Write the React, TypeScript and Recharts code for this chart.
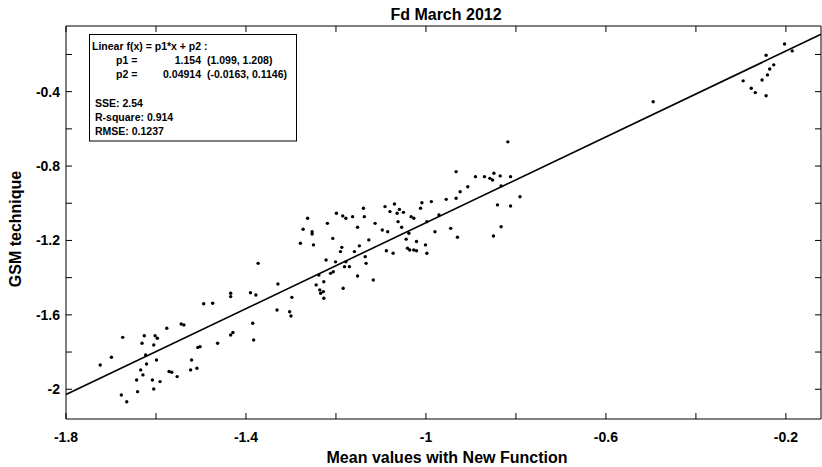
import React from 'react';
import { ScatterChart, Scatter, XAxis, YAxis, ReferenceLine } from 'recharts';

// Mean values with New Function (x) vs GSM technique (y)
const meanValues = [
  -1.724, -1.699, -1.674, -1.677, -1.665, -1.643, -1.641, -1.634, -1.631, -1.629,
  -1.626, -1.623, -1.621, -1.605, -1.602, -1.597, -1.608, -1.605, -1.599, -1.591,
  -1.576, -1.571, -1.565, -1.553, -1.544, -1.538, -1.521, -1.507, -1.502, -1.509,
  -1.523, -1.494, -1.474, -1.463, -1.434, -1.434, -1.434, -1.429, -1.390, -1.378,
  -1.385, -1.383, -1.373, -1.329, -1.331, -1.298, -1.303, -1.300,
  -1.279, -1.273, -1.263, -1.253, -1.253, -1.250, -1.244, -1.238, -1.236, -1.234,
  -1.228, -1.227, -1.227, -1.222, -1.219, -1.212, -1.206, -1.207, -1.201, -1.199,
  -1.190, -1.187, -1.185, -1.184, -1.181, -1.178, -1.178, -1.170, -1.163, -1.159,
  -1.152, -1.152, -1.148, -1.139, -1.137, -1.135, -1.133, -1.127, -1.117, -1.113,
  -1.097, -1.091, -1.088, -1.085, -1.080, -1.073, -1.070, -1.064, -1.062, -1.059,
  -1.054, -1.050, -1.044, -1.041, -1.038, -1.036, -1.033, -1.027, -1.027, -1.021,
  -1.021, -1.012, -1.009, -1.001, -0.998, -0.998, -0.988, -0.980, -0.971, -0.955,
  -0.945, -0.933, -0.933, -0.930, -0.924, -0.907, -0.890, -0.870, -0.858, -0.852,
  -0.849, -0.850, -0.841, -0.835, -0.833, -0.833, -0.818, -0.812, -0.812, -0.791,
  -0.495, -0.295, -0.277, -0.268, -0.253, -0.244, -0.244, -0.241, -0.236, -0.227,
  -0.203, -0.186,
];

const gsmValues = [
  -1.870, -1.828, -1.721, -2.031, -2.067, -1.950, -2.013, -1.896, -1.753, -1.923,
  -1.712, -1.816, -1.864, -1.762, -1.712, -1.726, -1.950, -1.999, -1.843, -1.959,
  -1.672, -1.905, -1.909, -1.932, -1.649, -1.654, -1.843, -1.775, -1.771, -1.887,
  -1.896, -1.540, -1.538, -1.753, -1.484, -1.502, -1.708, -1.695, -1.481, -1.493,
  -1.645, -1.735, -1.323, -1.434, -1.574, -1.506, -1.583, -1.606,
  -1.215, -1.140, -1.081, -1.153, -1.165, -1.224, -1.439, -1.386, -1.466, -1.484,
  -1.475, -1.422, -1.511, -1.305, -1.108, -1.377, -1.368, -1.189, -1.315, -1.054,
  -1.260, -1.237, -1.068, -1.457, -1.341, -1.315, -1.081, -1.341, -1.072, -1.260,
  -1.129, -1.391, -1.229, -1.027, -1.072, -1.287, -1.323, -1.197, -1.413, -1.108,
  -1.144, -1.018, -1.255, -1.153, -1.045, -1.269, -1.004, -1.054, -1.099, -1.033,
  -1.129, -1.049, -1.193, -1.242, -1.161, -1.251, -1.072, -1.081, -1.251, -1.206,
  -1.255, -1.027, -0.997, -1.224, -1.269, -1.099, -0.991, -1.153, -1.063, -0.979,
  -1.135, -0.830, -0.973, -1.183, -0.938, -0.911, -0.857, -0.857, -0.866, -0.875,
  -0.839, -1.176, -1.009, -0.853, -0.907, -1.126, -0.670, -1.015, -0.857, -0.965,
  -0.454, -0.342, -0.382, -0.405, -0.337, -0.422, -0.204, -0.310, -0.278, -0.256,
  -0.144, -0.181,
];

const points = meanValues.map((x, i) => ({ x, y: gsmValues[i] }));

const xTicks = [-1.8, -1.6, -1.4, -1.2, -1, -0.8, -0.6, -0.4, -0.2];
const xLabeled = [-1.8, -1.4, -1, -0.6, -0.2];
const yTicks = [-2, -1.8, -1.6, -1.4, -1.2, -1, -0.8, -0.6, -0.4, -0.2];
const yLabeled = [-2, -1.6, -1.2, -0.8, -0.4];

// fit: f(x) = p1*x + p2
const p1 = 1.154;
const p2 = 0.04914;

const xDomain: [number, number] = [-1.8, -0.122];
const yDomain: [number, number] = [-2.16, -0.047];

const font = '"Liberation Sans", Arial, sans-serif';
const tickStyle = { fontFamily: font, fontSize: 14, fontWeight: 700, fill: '#000' };

const labelOnly = (list: number[]) => (v: number) =>
  list.some((l) => Math.abs(l - v) < 1e-9) ? String(v) : '';
const blank = () => '';

const Dot = (props: any) => <circle cx={props.cx} cy={props.cy} r={1.7} fill="#000" />;

const App: React.FC = () => {
  const fitLine = [
    { x: xDomain[0], y: p1 * xDomain[0] + p2 },
    { x: xDomain[1], y: p1 * xDomain[1] + p2 },
  ];

  return (
    <div style={{ position: 'absolute', left: 0, top: 0, width: 822, height: 467, background: '#fff' }}>
      <ScatterChart width={822} height={467} margin={{ top: 25, right: 0, bottom: 0, left: 0 }}>
        <XAxis
          xAxisId="bottom"
          type="number"
          dataKey="x"
          domain={xDomain}
          allowDataOverflow
          ticks={xTicks}
          interval={0}
          tickFormatter={labelOnly(xLabeled)}
          height={48}
          tickSize={-6}
          tickMargin={19}
          stroke="#000"
          tick={tickStyle}
        />
        <XAxis
          xAxisId="top"
          orientation="top"
          type="number"
          dataKey="x"
          domain={xDomain}
          allowDataOverflow
          ticks={xTicks}
          interval={0}
          tickFormatter={blank}
          height={1}
          tickSize={-6}
          stroke="#000"
        />
        <YAxis
          yAxisId="left"
          type="number"
          dataKey="y"
          domain={yDomain}
          allowDataOverflow
          ticks={yTicks}
          interval={0}
          tickFormatter={labelOnly(yLabeled)}
          width={66}
          tickSize={-6}
          tickMargin={12}
          stroke="#000"
          tick={tickStyle}
        />
        <YAxis
          yAxisId="right"
          orientation="right"
          type="number"
          dataKey="y"
          domain={yDomain}
          allowDataOverflow
          ticks={yTicks}
          interval={0}
          tickFormatter={blank}
          width={1}
          tickSize={-6}
          stroke="#000"
        />
        <ReferenceLine
          xAxisId="bottom"
          yAxisId="left"
          segment={fitLine}
          stroke="#000"
          strokeWidth={1.6}
        />
        <Scatter
          xAxisId="bottom"
          yAxisId="left"
          data={points}
          shape={Dot}
          isAnimationActive={false}
        />
      </ScatterChart>

      <svg
        width={822}
        height={467}
        style={{ position: 'absolute', left: 0, top: 0, pointerEvents: 'none' }}
        fontFamily={font}
        fontWeight={700}
      >
        <text x={446} y={20} fontSize={16} textAnchor="middle" fill="#000">Fd March 2012</text>
        <text x={447} y={463} fontSize={16} textAnchor="middle" fill="#000">Mean values with New Function</text>
        <text x={21} y={229} fontSize={16} textAnchor="middle" fill="#000" transform="rotate(-90, 21, 229)">
          GSM technique
        </text>

        <rect x={89.5} y={34.5} width={207} height={106.5} fill="#fff" stroke="#000" strokeWidth={1} />
        <g fontSize={10.5} fill="#000">
          <text x={92} y={50}>Linear f(x) = p1*x + p2 :</text>
          <text x={116} y={64}>p1 =</text>
          <text x={201} y={64} textAnchor="end">1.154</text>
          <text x={207} y={64}>(1.099, 1.208)</text>
          <text x={116} y={78}>p2 =</text>
          <text x={201} y={78} textAnchor="end">0.04914</text>
          <text x={207} y={78}>(-0.0163, 0.1146)</text>
          <text x={95} y={107}>SSE: 2.54</text>
          <text x={95} y={121}>R-square: 0.914</text>
          <text x={95} y={135}>RMSE: 0.1237</text>
        </g>
      </svg>
    </div>
  );
};

export default App;
